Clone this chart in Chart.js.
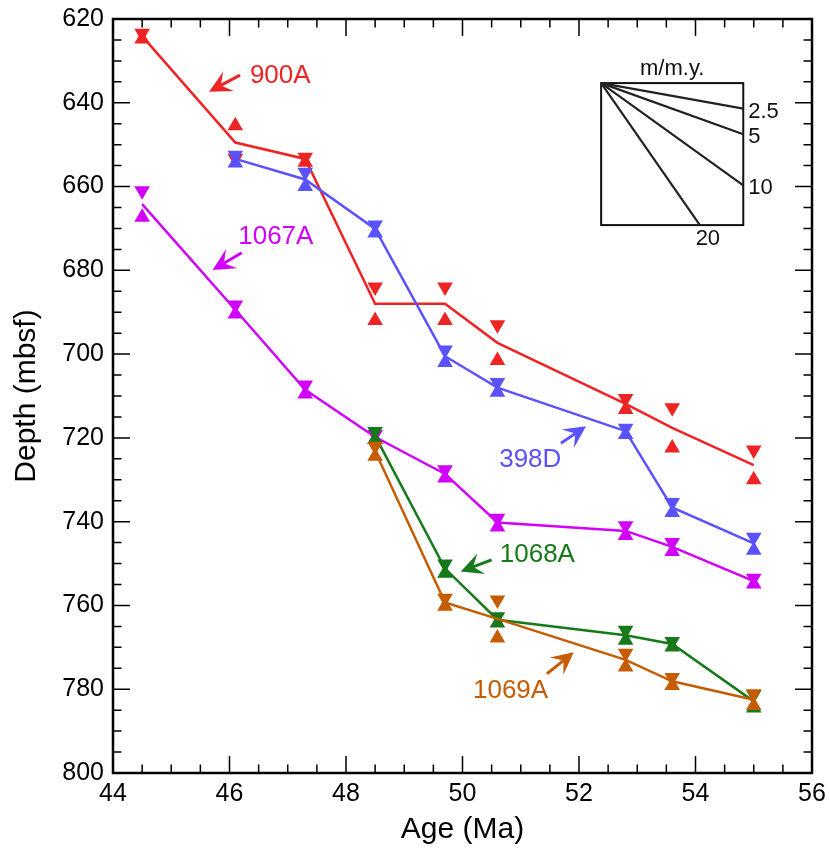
<!DOCTYPE html>
<html>
<head>
<meta charset="utf-8">
<script src="https://cdn.jsdelivr.net/npm/chart.js@4.4.0/dist/chart.umd.min.js"></script>
<style>
  html, body { margin: 0; padding: 0; background: #fff; }
  #wrap { width: 830px; height: 852px; }
</style>
</head>
<body>
<div id="wrap"><canvas id="depthChart" width="830" height="852"></canvas></div>
<script>
// Age of each datum (Ma)
const ages = [44.5, 46.1, 47.3, 48.5, 49.7, 50.6, 52.8, 53.6, 55.0];

// Depths (mbsf): dn = down triangle, up = up triangle, fit = connecting line
const dn900A  = [623.4, 653.3, 653.0, 684.0, 684.0, 693.0, 710.6, 712.8, 722.9];
const up900A  = [624.8, 645.5, 654.2, 692.0, 692.0, 701.5, 713.2, 722.4, 730.0];
const fit900A = [624.1, 649.5, 653.4, 688.0, 688.0, 697.3, 711.9, 717.6, 726.5];

const dn398D  = [null, 652.5, 656.6, 669.2, 699.0, 706.8, 717.7, 735.4, 743.7];
const up398D  = [null, 654.4, 660.0, 671.1, 702.0, 709.1, 719.2, 737.8, 746.8];
const fit398D = [null, 653.4, 658.3, 670.1, 700.5, 708.0, 718.4, 736.6, 745.2];

const dn1067A  = [661.0, 688.3, 707.4, 719.2, 727.6, 739.2, 741.0, 745.0, 753.5];
const up1067A  = [667.3, 690.4, 709.5, 720.4, 729.6, 741.3, 743.3, 747.1, 754.9];
const fit1067A = [664.2, 689.4, 708.5, 719.8, 728.6, 740.2, 742.2, 746.0, 754.2];

const dn1068A  = [null, null, null, 718.5, 750.1, 762.7, 765.9, 768.6, 781.3];
const up1068A  = [null, null, null, 720.4, 752.3, 764.2, 768.3, 769.9, 784.5];
const fit1068A = [null, null, null, 719.5, 751.2, 763.4, 767.1, 769.2, 782.9];

const dn1069A  = [null, null, null, 722.0, 758.3, 758.7, 771.4, 777.2, 781.1];
const up1069A  = [null, null, null, 724.4, 760.2, 767.8, 774.7, 779.1, 783.9];
const fit1069A = [null, null, null, 723.2, 759.3, 763.2, 773.0, 778.1, 782.5];

// Sedimentation-rate key (m/m.y.)
const rates = [2.5, 5, 10, 20];

const FONT = '"Liberation Sans", Arial, Helvetica, sans-serif';
const colors = {
    '900A': '#ee2424',
    '398D': '#5b52ff',
    '1067A': '#d200fa',
    '1068A': '#16791a',
    '1069A': '#c65c00'
};

function toPoints(vals) {
    return ages.map((a, i) => ({ x: a, y: vals[i] })).filter(p => p.y !== null);
}

function siteDatasets(name, dn, up, fit, order) {
    const c = colors[name];
    return [
        {
            label: name, data: toPoints(fit), borderColor: c, borderWidth: 2.5,
            pointRadius: 0, fill: false, tension: 0, order: order + 2
        },
        {
            label: name + ' dn', data: toPoints(dn), showLine: false, pointStyle: 'triangle',
            rotation: 180, pointRadius: 7.5, backgroundColor: c, borderColor: c, borderWidth: 1.5,
            order: order + 1
        },
        {
            label: name + ' up', data: toPoints(up), showLine: false, pointStyle: 'triangle',
            rotation: 0, pointRadius: 7.5, backgroundColor: c, borderColor: c, borderWidth: 1.5,
            order: order
        }
    ];
}

// Labels with arrows, in data units (age, depth)
const notes = [
    { text: '900A',  at: [46.35, 633.6], from: [46.18, 633.4], to: [45.65, 637.35] },
    { text: '1067A', at: [46.15, 671.9], from: [46.21, 675.8], to: [45.71, 679.9] },
    { text: '398D',  at: [50.63, 725.3], from: [51.69, 721.3], to: [52.12, 717.2] },
    { text: '1068A', at: [50.64, 748.0], from: [50.50, 749.1], to: [49.97, 751.9] },
    { text: '1069A', at: [50.18, 780.4], from: [51.45, 776.3], to: [51.91, 771.2] }
];

// Key box corners in data units
const keyAge = [52.38, 54.82];
const keyDepth = [635.3, 669.2];

function drawArrow(ctx, x1, y1, x2, y2, color) {
    const dx = x2 - x1, dy = y2 - y1;
    const len = Math.hypot(dx, dy);
    const ux = dx / len, uy = dy / len;
    const nx = -uy, ny = ux;
    const L = 22, W = 11;
    ctx.strokeStyle = color;
    ctx.fillStyle = color;
    ctx.lineWidth = 3;
    ctx.beginPath();
    ctx.moveTo(x1, y1);
    ctx.lineTo(x2 - ux * L * 0.6, y2 - uy * L * 0.6);
    ctx.stroke();
    ctx.beginPath();
    ctx.moveTo(x2, y2);
    ctx.lineTo(x2 - ux * L + nx * W, y2 - uy * L + ny * W);
    ctx.lineTo(x2 - ux * L * 0.6, y2 - uy * L * 0.6);
    ctx.lineTo(x2 - ux * L - nx * W, y2 - uy * L - ny * W);
    ctx.closePath();
    ctx.fill();
}

const extras = {
    id: 'extras',
    afterDatasetsDraw(chart) {
        const { ctx, chartArea: a, scales: { x, y } } = chart;
        ctx.save();

        // inward ticks on all four sides
        ctx.strokeStyle = '#000';
        ctx.lineWidth = 1.5;
        for (let v = 44; v <= 56.001; v += 0.5) {
            const px = x.getPixelForValue(v);
            const len = Math.abs(v / 2 - Math.round(v / 2)) < 1e-6 ? 17 : 8.5;
            ctx.beginPath();
            ctx.moveTo(px, a.bottom); ctx.lineTo(px, a.bottom - len);
            ctx.moveTo(px, a.top); ctx.lineTo(px, a.top + len);
            ctx.stroke();
        }
        for (let v = 620; v <= 800; v += 5) {
            const py = y.getPixelForValue(v);
            const len = v % 20 === 0 ? 17 : 8.5;
            ctx.beginPath();
            ctx.moveTo(a.left, py); ctx.lineTo(a.left + len, py);
            ctx.moveTo(a.right, py); ctx.lineTo(a.right - len, py);
            ctx.stroke();
        }
        ctx.lineWidth = 2.5;
        ctx.strokeRect(a.left, a.top, a.right - a.left, a.bottom - a.top);

        // site labels and arrows
        ctx.font = '26px ' + FONT;
        ctx.textAlign = 'left';
        ctx.textBaseline = 'middle';
        notes.forEach(n => {
            const c = colors[n.text];
            ctx.fillStyle = c;
            ctx.fillText(n.text, x.getPixelForValue(n.at[0]), y.getPixelForValue(n.at[1]));
            drawArrow(ctx,
                x.getPixelForValue(n.from[0]), y.getPixelForValue(n.from[1]),
                x.getPixelForValue(n.to[0]), y.getPixelForValue(n.to[1]), c);
        });

        // sedimentation-rate key
        const kl = x.getPixelForValue(keyAge[0]), kr = x.getPixelForValue(keyAge[1]);
        const kt = y.getPixelForValue(keyDepth[0]), kb = y.getPixelForValue(keyDepth[1]);
        ctx.strokeStyle = '#111';
        ctx.lineWidth = 2;
        ctx.strokeRect(kl, kt, kr - kl, kb - kt);
        ctx.fillStyle = '#111';
        ctx.font = '22px ' + FONT;
        ctx.textAlign = 'center';
        ctx.fillText('m/m.y.', (kl + kr) / 2, kt - 14);
        ctx.strokeStyle = '#222';
        ctx.lineWidth = 2.2;
        rates.forEach(r => {
            let endAge = keyAge[1];
            let endDepth = keyDepth[0] + r * (keyAge[1] - keyAge[0]);
            let onBottom = false;
            if (endDepth > keyDepth[1]) {
                endDepth = keyDepth[1];
                endAge = keyAge[0] + (keyDepth[1] - keyDepth[0]) / r;
                onBottom = true;
            }
            const ex = x.getPixelForValue(endAge), ey = y.getPixelForValue(endDepth);
            ctx.beginPath();
            ctx.moveTo(kl, kt);
            ctx.lineTo(ex, ey);
            ctx.stroke();
            if (onBottom) {
                ctx.textAlign = 'center';
                ctx.fillText(String(r), ex + 8, kb + 14);
            } else {
                ctx.textAlign = 'left';
                ctx.fillText(String(r), kr + 5, ey + 3);
            }
        });
        ctx.restore();
    }
};

const datasets = [
    ...siteDatasets('1069A', dn1069A, up1069A, fit1069A, 1),
    ...siteDatasets('1068A', dn1068A, up1068A, fit1068A, 4),
    ...siteDatasets('1067A', dn1067A, up1067A, fit1067A, 7),
    ...siteDatasets('398D', dn398D, up398D, fit398D, 10),
    ...siteDatasets('900A', dn900A, up900A, fit900A, 13)
];

new Chart(document.getElementById('depthChart').getContext('2d'), {
    type: 'line',
    data: { datasets: datasets },
    options: {
        responsive: false,
        animation: false,
        layout: { padding: { top: 19, right: 18, left: 0, bottom: 0 } },
        plugins: {
            legend: { display: false },
            tooltip: { enabled: false }
        },
        scales: {
            x: {
                type: 'linear',
                min: 44, max: 56,
                grid: { display: false, drawTicks: false },
                border: { display: false },
                ticks: {
                    stepSize: 2, color: '#000', padding: 6,
                    font: { family: FONT, size: 25 }
                },
                title: {
                    display: true, text: 'Age (Ma)', color: '#000',
                    font: { family: FONT, size: 30 },
                    padding: { top: 0, bottom: 4 }
                },
                afterFit: scale => {
                    scale.height = 79;
                    scale.paddingLeft = 0;
                    scale.paddingRight = 0;
                }
            },
            y: {
                type: 'linear',
                reverse: true,
                min: 620, max: 800,
                grid: { display: false, drawTicks: false },
                border: { display: false },
                ticks: {
                    stepSize: 20, color: '#000', padding: 9,
                    font: { family: FONT, size: 25 }
                },
                title: {
                    display: true, text: 'Depth (mbsf)', color: '#000',
                    font: { family: FONT, size: 30 },
                    padding: { top: 9, bottom: 0 }
                },
                afterFit: scale => {
                    scale.width = 113;
                    scale.paddingTop = 0;
                    scale.paddingBottom = 0;
                }
            }
        }
    },
    plugins: [extras]
});
</script>
</body>
</html>
